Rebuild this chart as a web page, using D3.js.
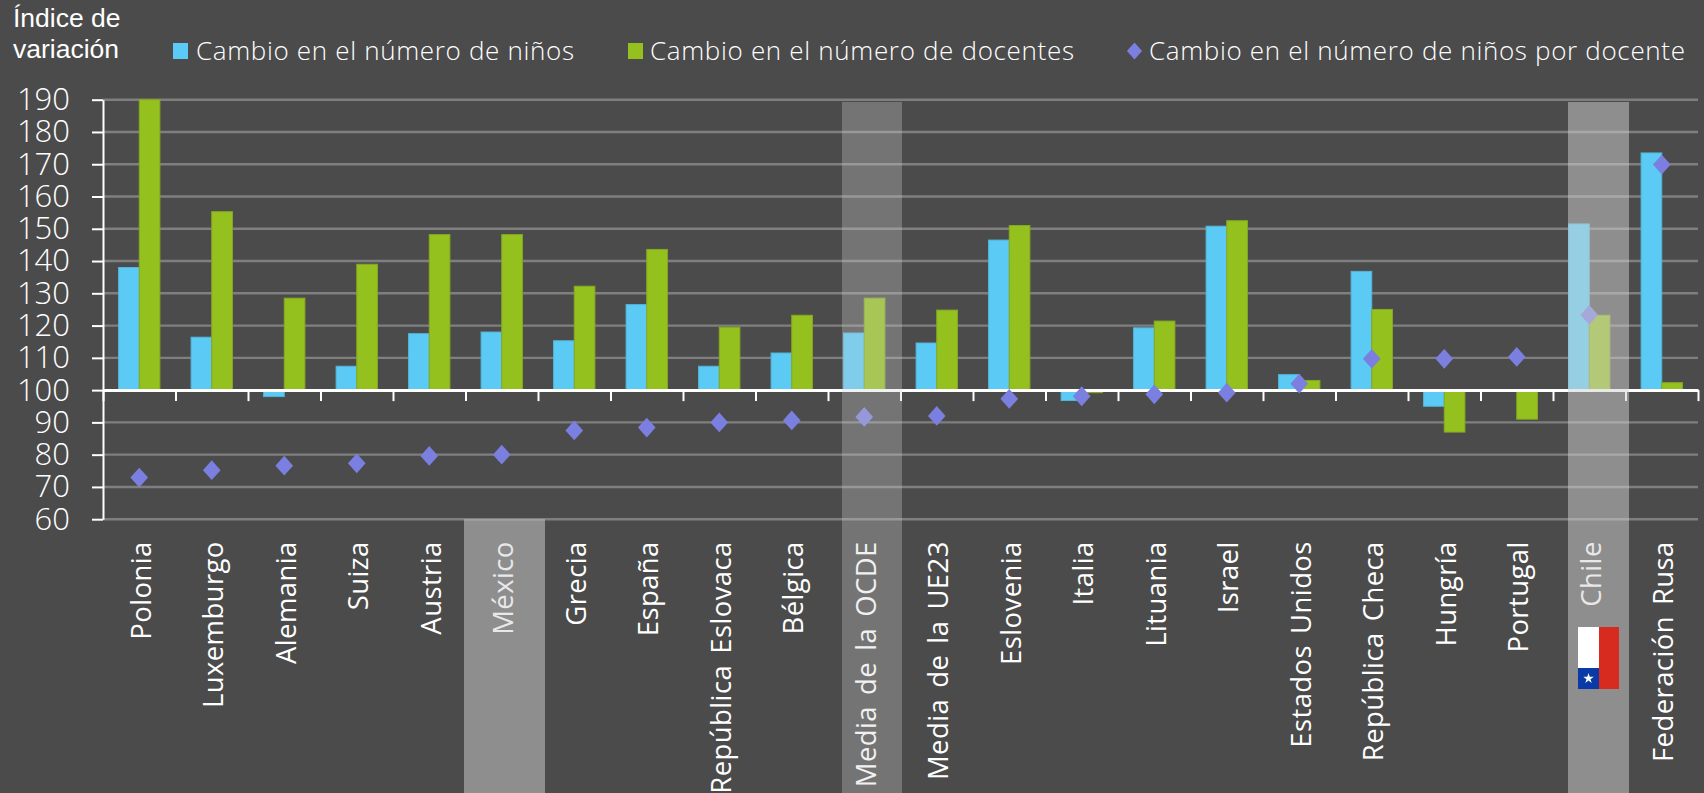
<!DOCTYPE html>
<html lang="es">
<head>
<meta charset="UTF-8">
<title>Índice de variación</title>
<script src="https://d3js.org/d3.v7.min.js"></script>
<style>
    body { margin: 0; background: #4b4b4b; overflow: hidden; }
    svg { display: block; }
    text { font-family: "Open Sans", sans-serif; fill: #fff; }
    .domain, .tick line { stroke: #fff; stroke-width: 2; }
    .grid line { stroke: #7f7f7f; stroke-width: 2.4; }
</style>
</head>
<body>
<svg width="1704" height="793"></svg>
<script>
const paises = ["Polonia", "Luxemburgo", "Alemania", "Suiza", "Austria", "México", "Grecia", "España",
    "República Eslovaca", "Bélgica", "Media de la OCDE", "Media de la UE23", "Eslovenia", "Italia",
    "Lituania", "Israel", "Estados Unidos", "República Checa", "Hungría", "Portugal", "Chile", "Federación Rusa"];
const ninos = [138, 116.4, 98, 107.4, 117.5, 118, 115.3, 126.5, 107.4, 111.5, 117.7, 114.6, 146.5, 96.8, 119.3, 150.8, 104.8, 136.8, 95, 100, 151.5, 173.5];
const docentes = [190, 155.3, 128.5, 139, 148.2, 148.2, 132.2, 143.6, 119.5, 123.2, 128.5, 124.8, 151, 99.2, 121.4, 152.5, 103, 125, 87, 91, 123.2, 102.3];
const ninosPorDocente = [72.9, 75.2, 76.6, 77.3, 79.6, 80, 87.5, 88.4, 90, 90.6, 91.7, 92, 97.3, 98.1, 98.7, 99.2, 102, 109.7, 109.7, 110.3, 123.3, 169.9];
const yTicks = [60, 70, 80, 90, 100, 110, 120, 130, 140, 150, 160, 170, 180, 190];

const plotLeft = 103, plotRight = 1698, plotTop = 99.7, plotBottom = 519.2;
const svg = d3.select("svg");

const x = d3.scaleBand().domain(paises).range([plotLeft, plotRight]).paddingInner(0.43).paddingOuter(0.215);
const sub = d3.scaleBand().domain(["ninos", "docentes"]).range([0, x.bandwidth()]);
const edge = d3.scaleLinear().domain([0, paises.length]).range([plotLeft, plotRight]);
const y = d3.scaleLinear().domain([60, 190]).range([plotBottom, plotTop]);

// gridlines
svg.append("g").attr("class", "grid")
    .selectAll("line").data(yTicks).join("line")
    .attr("x1", plotLeft).attr("x2", plotRight)
    .attr("y1", d => y(d)).attr("y2", d => y(d));

// bars
function barras(values, key, color, stroke) {
    svg.append("g").selectAll("rect").data(values).join("rect")
        .attr("x", (d, i) => x(paises[i]) + sub(key))
        .attr("width", sub.bandwidth())
        .attr("y", d => y(Math.max(d, 100)))
        .attr("height", d => Math.abs(y(d) - y(100)))
        .attr("fill", color)
        .attr("stroke", stroke)
        .attr("stroke-width", 1);
}
barras(ninos, "ninos", "#5bcbf5", "#54b5d8");
barras(docentes, "docentes", "#95c11f", "#86a921");

// axes
const yAxis = svg.append("g").attr("transform", `translate(${plotLeft},0)`)
    .call(d3.axisLeft(y).tickValues(yTicks).tickSize(11).tickSizeOuter(0).tickPadding(22));
yAxis.selectAll("text").style("font-size", "31px").style("font-weight", 300);

svg.append("g").attr("transform", `translate(0,${y(100)})`)
    .call(d3.axisBottom(edge).tickValues(d3.range(0, paises.length + 1)).tickSize(11).tickSizeOuter(0).tickFormat(""))
    .select(".domain").style("stroke-width", 3);

const xLabels = svg.append("g").attr("transform", `translate(0,${plotBottom})`)
    .call(d3.axisBottom(x).tickSize(0));
xLabels.select(".domain").remove();
xLabels.selectAll("text")
    .attr("transform", "rotate(-90)")
    .attr("x", -22)
    .attr("y", 2)
    .attr("dy", "0.35em")
    .style("text-anchor", "end")
    .style("font-size", "27.5px")
    .style("letter-spacing", "0.4px")
    .style("word-spacing", "3.5px")
    .style("font-weight", 400);

// diamonds
const diamond = d3.symbol().type(d3.symbolSquare);
svg.append("g").selectAll("path").data(ninosPorDocente).join("path")
    .attr("d", diamond.size(156)())
    .attr("transform", (d, i) => `translate(${x(paises[i]) + x.bandwidth() / 2},${y(d)}) scale(1,1.12) rotate(45)`)
    .attr("fill", "#7a7fe0");

// highlight bands
const bands = [
    { x0: 464, y0: plotBottom, w: 81, o: 0.5 },
    { x0: 842, y0: 102, w: 60, o: 0.31 },
    { x0: 1568, y0: 102, w: 61, o: 0.5 }
];
svg.append("g").selectAll("rect").data(bands).join("rect")
    .attr("x", d => d.x0)
    .attr("width", d => d.w)
    .attr("y", d => d.y0)
    .attr("height", d => 793 - d.y0)
    .attr("fill", "#d2d2d2")
    .attr("opacity", d => d.o);

// flag
const flag = svg.append("g").attr("transform", "translate(1578,627)");
flag.append("rect").attr("width", 21).attr("height", 41).attr("fill", "#fff");
flag.append("rect").attr("x", 21).attr("width", 20).attr("height", 62).attr("fill", "#d72b1f");
flag.append("rect").attr("y", 41).attr("width", 21).attr("height", 21).attr("fill", "#0a3aa5");
flag.append("path").attr("d", d3.symbol().type(d3.symbolStar).size(34)())
    .attr("transform", "translate(10.5,51.5)").attr("fill", "#fff");

// title
const titulo = svg.append("text").style("font-family", "'Liberation Sans', sans-serif").style("font-size", "26.5px");
titulo.append("tspan").attr("x", 13).attr("y", 27).text("Índice de");
titulo.append("tspan").attr("x", 13).attr("y", 58).text("variación");

// legend
const leyenda = svg.append("g");
leyenda.append("rect").attr("x", 173).attr("y", 43).attr("width", 15).attr("height", 16).attr("fill", "#5bcbf5");
leyenda.append("rect").attr("x", 628).attr("y", 43).attr("width", 15).attr("height", 16).attr("fill", "#95c11f");
leyenda.append("path").attr("d", diamond.size(115)())
    .attr("transform", "translate(1134.5,51) scale(1,1.12) rotate(45)").attr("fill", "#7a7fe0");
const textos = [
    { t: "Cambio en el número de niños", x: 196, w: 378 },
    { t: "Cambio en el número de docentes", x: 650, w: 424 },
    { t: "Cambio en el número de niños por docente", x: 1149, w: 536 }
];
leyenda.selectAll("text").data(textos).join("text")
    .attr("x", d => d.x).attr("y", 60)
    .attr("textLength", d => d.w)
    .style("font-size", "26px").style("font-weight", 300)
    .text(d => d.t);
</script>
</body>
</html>
